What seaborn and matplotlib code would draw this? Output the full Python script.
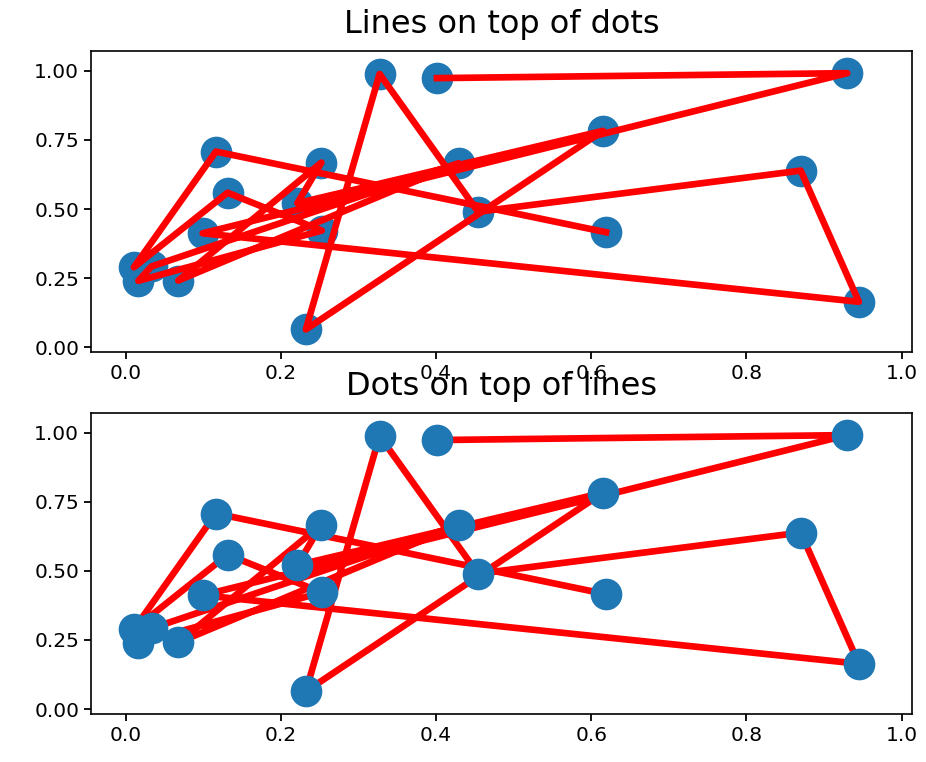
import matplotlib
matplotlib.use("Agg")
import matplotlib.pyplot as plt
import seaborn as sns
import pandas as pd

# point coordinates in path order
x = [0.401, 0.930, 0.099, 0.945, 0.870, 0.454, 0.327, 0.232, 0.615, 0.221,
     0.252, 0.0675, 0.429, 0.033, 0.016, 0.2525, 0.131, 0.0103, 0.116, 0.619]
y = [0.974, 0.992, 0.412, 0.164, 0.639, 0.490, 0.989, 0.064, 0.783, 0.521,
     0.668, 0.241, 0.666, 0.292, 0.240, 0.422, 0.559, 0.289, 0.708, 0.416]
titles = ["Lines on top of dots", "Dots on top of lines"]
xticks = [0.0, 0.2, 0.4, 0.6, 0.8, 1.0]
yticks = [0.00, 0.25, 0.50, 0.75, 1.00]

df = pd.DataFrame({"x": x, "y": y})

fig = plt.figure(figsize=(9.26, 7.62), dpi=100)
ax1 = fig.add_axes([0.0983, 0.538, 0.887, 0.395])
ax2 = fig.add_axes([0.0983, 0.063, 0.887, 0.395])

line_zorders = [2, 1]
dot_zorders = [1, 2]
for ax, title, lz, dz in zip([ax1, ax2], titles, line_zorders, dot_zorders):
    sns.lineplot(data=df, x="x", y="y", sort=False, estimator=None,
                 color="red", linewidth=4.8, ax=ax, zorder=lz)
    sns.scatterplot(data=df, x="x", y="y", s=520, color="#1f77b4",
                    linewidth=0, ax=ax, zorder=dz)
    ax.set_xlim(-0.045, 1.014)
    ax.set_ylim(-0.018, 1.072)
    ax.set_xticks(xticks)
    ax.set_yticks(yticks)
    ax.set_xticklabels([f"{v:.1f}" for v in xticks])
    ax.set_yticklabels([f"{v:.2f}" for v in yticks])
    ax.set_xlabel("")
    ax.set_ylabel("")
    ax.tick_params(labelsize=14.5, length=5, width=1.3, pad=3.5)
    for sp in ax.spines.values():
        sp.set_linewidth(1.2)
    ax.set_title(title, fontsize=23, pad=13)

fig.savefig("out.png", dpi=100)
